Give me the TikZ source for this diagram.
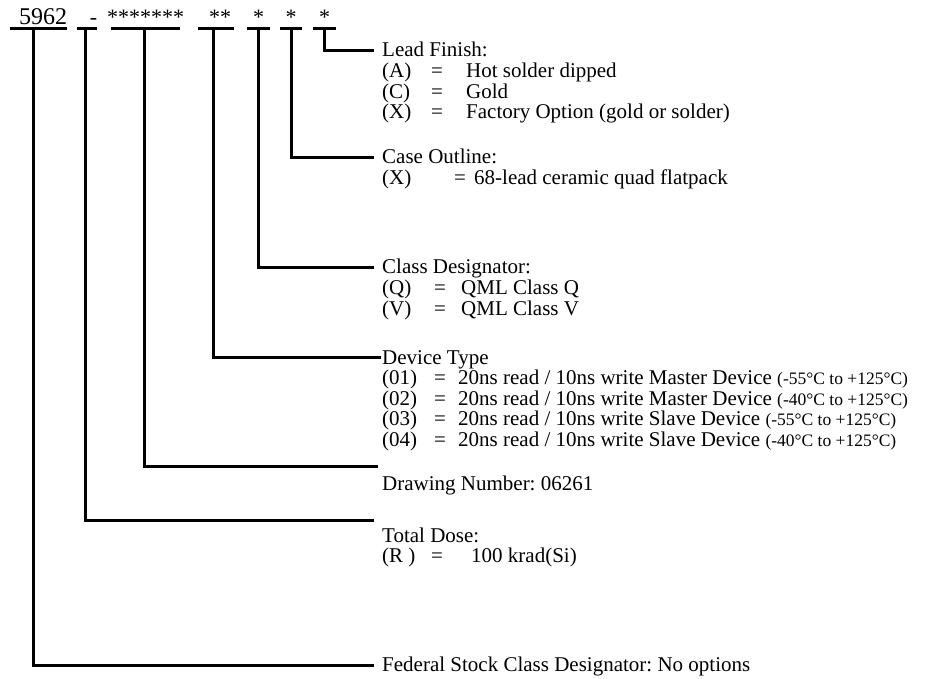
\documentclass[tikz,border=0pt]{standalone}
\usepackage{fontspec}
\setmainfont{Liberation Serif}
\usetikzlibrary{positioning}
\newcommand{\tempnote}[1]{{\fontsize{17.5}{20}\selectfont #1}}
\frenchspacing

\begin{document}
\begin{tikzpicture}[x=1pt,y=-1pt,
	bar/.style={line width=3pt},
	field/.style={inner sep=0pt, text depth=3pt, anchor=base west, font=\fontsize{22}{22}\selectfont},
	block/.style={inner xsep=8pt, inner ysep=0pt, anchor=base west, font=\fontsize{21}{20}\selectfont}]
	
	\useasboundingbox (0,0) rectangle (930,679);
	
	% part number fields
	\node[field] (f1) at (10,25) {\makebox[57pt][r]{\fontsize{24}{24}\selectfont 5962}};
	\node[field] (f2) at (77,25) {\makebox[20pt][r]{-}};
	\node[field] (f3) at (111,25) {\makebox[69pt]{*******}};
	\node[field] (f4) at (198,25) {\makebox[36pt][r]{**\kern3pt}};
	\node[field] (f5) at (247,25) {\makebox[23pt]{*}};
	\node[field] (f6) at (280,25) {\makebox[22pt]{*}};
	\node[field] (f7) at (313,25) {\makebox[23pt]{*}};
	
	\foreach \f in {f1,f2,f3,f4,f5,f6,f7}
		\draw[bar] (\f.south west) -- (\f.south east);
	
	% option blocks
	\node[block] (lead) at (374,57) {\begin{tabular}[t]{@{}p{49pt}@{}p{35pt}@{}l@{}}
		\multicolumn{3}{@{}l@{}}{Lead Finish:}\\
		(A) & = & Hot solder dipped\\
		(C) & = & Gold\\
		(X) & = & Factory Option (gold or solder)
	\end{tabular}};
	
	\node[block] (case) at (374,164) {\begin{tabular}[t]{@{}p{72pt}@{}p{20pt}@{}l@{}}
		\multicolumn{3}{@{}l@{}}{Case Outline:}\\
		(X) & = & 68-lead ceramic quad flatpack
	\end{tabular}};
	
	\node[block] (class) at (374,274) {\begin{tabular}[t]{@{}p{52pt}@{}p{27pt}@{}l@{}}
		\multicolumn{3}{@{}l@{}}{Class Designator:}\\
		(Q) & = & QML Class Q\\
		(V) & = & QML Class V
	\end{tabular}};
	
	\node[block, inner xsep=1pt] (dev) at (381,364) {\begin{tabular}[t]{@{}p{52pt}@{}p{24pt}@{}l@{}}
		\multicolumn{3}{@{}l@{}}{Device Type}\\
		(01) & = & 20ns read / 10ns write Master Device \tempnote{(-55°C to +125°C)}\\
		(02) & = & 20ns read / 10ns write Master Device \tempnote{(-40°C to +125°C)}\\
		(03) & = & 20ns read / 10ns write Slave Device \tempnote{(-55°C to +125°C)}\\
		(04) & = & 20ns read / 10ns write Slave Device \tempnote{(-40°C to +125°C)}
	\end{tabular}};
	
	\node[block] (dwg) at (374,490) {Drawing Number: 06261};
	
	\node[block] (dose) at (374,542) {\begin{tabular}[t]{@{}p{49pt}@{}p{40pt}@{}l@{}}
		\multicolumn{3}{@{}l@{}}{Total Dose:}\\
		(R ) & = & 100 krad(Si)
	\end{tabular}};
	
	\node[block] (fsc) at (374,671) {Federal Stock Class Designator: No options};
	
	% hooks
	\coordinate (leadhook) at ([yshift=6pt]lead.base west);
	\coordinate (casehook) at ([yshift=6pt]case.base west);
	\coordinate (classhook) at ([yshift=6pt]class.base west);
	\coordinate (devhook) at ([yshift=6pt]dev.base west);
	\coordinate (dwgend) at (378,466);
	\coordinate (doseend) at (374,520);
	\coordinate (fschook) at ([yshift=6pt]fsc.base west);
	
	\draw[bar] (f7.south) |- (leadhook);
	\draw[bar] (f6.south) |- (casehook);
	\draw[bar] (f5.south) |- (classhook);
	\draw[bar] ([xshift=-3pt]f4.south) |- (devhook);
	\draw[bar] ([xshift=-1pt]f3.south) |- (dwgend);
	\draw[bar] ([xshift=-2pt]f2.south) |- (doseend);
	\draw[bar] ([xshift=-5.5pt]f1.south) |- (fschook);
	
\end{tikzpicture}
\end{document}
